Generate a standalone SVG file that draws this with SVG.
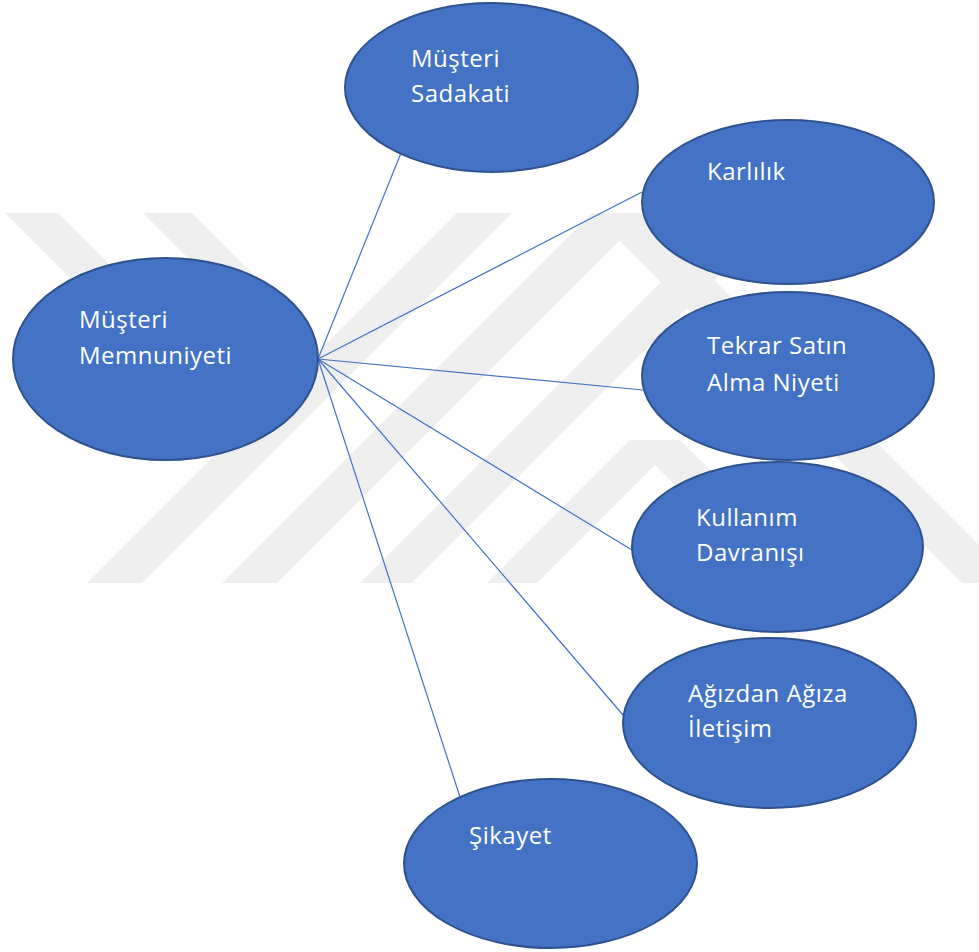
<svg xmlns="http://www.w3.org/2000/svg" width="979" height="952" viewBox="0 0 979 952">
  <style>
    .wm { fill: #eeeeee; }
    .node ellipse { fill: #4472c4; stroke: #2f528f; stroke-width: 2; }
    .node text { fill: #ffffff; font-family: "Open Sans", "Noto Sans", sans-serif; font-size: 24px; letter-spacing: 0.5px; }
    .edge { stroke: #4472c4; stroke-width: 1.2; fill: none; }
  </style>
  <rect width="979" height="952" fill="#ffffff"/>
  <g id="watermark">
    <polygon class="wm" points="5,213 58,213 250,405 197,405"/>
    <polygon class="wm" points="143,213 192,213 300,321 251,321"/>
    <polygon class="wm" points="457,213 512,213 142,583 87,583"/>
    <polygon class="wm" points="592,213 647,213 277,583 222,583"/>
    <polygon class="wm" points="730,213 782,213 412,583 360,583"/>
    <polygon class="wm" points="630,440 680,440 537,583 487,583"/>
    <polygon class="wm" points="630,440 680,440 823,583 773,583"/>
    <polygon class="wm" points="592,213 647,213 1017,583 962,583"/>
  </g>
  <g id="connectors">
    <line class="edge" x1="318" y1="359" x2="401" y2="153"/>
    <line class="edge" x1="318" y1="359" x2="642" y2="192"/>
    <line class="edge" x1="318" y1="359" x2="643" y2="390"/>
    <line class="edge" x1="318" y1="359" x2="632" y2="550"/>
    <line class="edge" x1="318" y1="359" x2="623" y2="715"/>
    <line class="edge" x1="318" y1="359" x2="460" y2="797"/>
  </g>
  <g id="musteri-memnuniyeti" class="node">
    <ellipse cx="165.5" cy="359" rx="152.5" ry="101"/>
    <text x="79" y="328">Müşteri</text>
    <text x="79" y="364">Memnuniyeti</text>
  </g>
  <g id="musteri-sadakati" class="node">
    <ellipse cx="491.5" cy="87.5" rx="146.5" ry="84.5"/>
    <text x="411" y="67">Müşteri</text>
    <text x="411" y="102">Sadakati</text>
  </g>
  <g id="karlilik" class="node">
    <ellipse cx="788" cy="202" rx="146" ry="82"/>
    <text x="707" y="180">Karlılık</text>
  </g>
  <g id="tekrar-satin-alma" class="node">
    <ellipse cx="788" cy="376" rx="146" ry="84"/>
    <text x="707" y="354">Tekrar Satın</text>
    <text x="707" y="391">Alma Niyeti</text>
  </g>
  <g id="kullanim-davranisi" class="node">
    <ellipse cx="777.5" cy="547" rx="145.5" ry="85"/>
    <text x="696" y="526">Kullanım</text>
    <text x="696" y="561">Davranışı</text>
  </g>
  <g id="agizdan-agiza" class="node">
    <ellipse cx="769.5" cy="723" rx="146.5" ry="85"/>
    <text x="688" y="702">Ağızdan Ağıza</text>
    <text x="688" y="737">İletişim</text>
  </g>
  <g id="sikayet" class="node">
    <ellipse cx="550.5" cy="863.5" rx="146.5" ry="84.5"/>
    <text x="469" y="844">Şikayet</text>
  </g>
</svg>
